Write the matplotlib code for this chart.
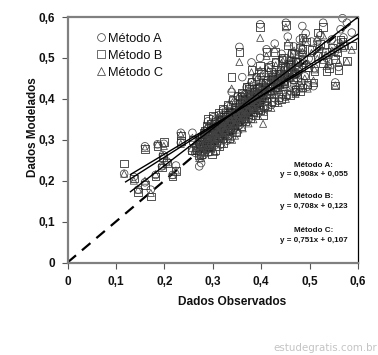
import matplotlib
matplotlib.use('Agg')
import matplotlib.pyplot as plt

plt.rcParams['font.family'] = ['Liberation Sans', 'DejaVu Sans']

# observed values, shared by the three methods
obs = [.117, .137, .146, .160, .160, .172, .182, .186, .199, .197,
       .195, .205, .217, .224, .234, .234, .258, .257, .276, .339,
       .361, .355, .398, .451, .485, .528, .568, .577, .587, .516,
       .508, .553, .404, .535, .560, .471, .484, .380, .398, .411,
       .375, .360,
       .420, .428, .435, .442, .448, .455, .462, .468, .474, .480,
       .486, .492, .498, .504, .510, .516, .522, .528, .534, .540,
       .546, .552, .558, .564, .570,
       .272, .275, .278, .281, .283, .285, .287, .289, .290, .292,
       .294, .295, .297, .298, .300, .301, .303, .304, .306, .307,
       .309, .310, .312, .313, .315, .316, .318, .319, .321, .322,
       .324, .325, .327, .328, .330, .331, .333, .335, .336, .338,
       .340, .341, .343, .345, .346, .348, .350, .351, .353, .355,
       .356, .358, .360, .362, .364, .366, .368, .370, .372, .374,
       .376, .378, .380, .382, .384, .386, .388, .390, .392, .394,
       .396, .398, .400, .403, .406, .409, .412, .415, .418, .421,
       .424, .427, .430, .433, .436, .439, .442, .445, .448, .451,
       .455, .459, .463, .467, .471, .475, .480, .485, .490, .496]

metodo_a = [.217, .209, .178, .284, .196, .178, .214, .289, .290, .263,
            .235, .247, .214, .237, .317, .293, .317, .272, .243, .417,
            .453, .527, .582, .586, .578, .586, .597, .586, .562, .540,
            .431, .440, .380, .500, .478, .423, .440, .489, .500, .521,
            .430, .406,
            .482, .535, .450, .510, .470, .552, .495, .528, .462, .545,
            .510, .560, .498, .540, .475, .525, .555, .505, .530, .490,
            .545, .515, .535, .570, .550,
            .235, .285, .300, .262, .310, .275, .325, .292, .345, .280,
            .305, .270, .330, .298, .312, .355, .285, .322, .300, .340,
            .292, .315, .360, .305, .332, .288, .348, .318, .372, .300,
            .338, .312, .355, .325, .298, .382, .345, .320, .362, .335,
            .308, .395, .352, .328, .372, .342, .318, .405, .362, .335,
            .385, .350, .412, .372, .345, .395, .362, .428, .380, .350,
            .402, .370, .440, .388, .358, .415, .378, .452, .398, .365,
            .425, .385, .462, .405, .375, .438, .395, .475, .418, .385,
            .445, .402, .488, .425, .395, .460, .412, .498, .435, .405,
            .475, .420, .510, .445, .415, .488, .430, .520, .455, .430]

metodo_b = [.242, .205, .172, .278, .190, .161, .210, .285, .294, .258,
            .232, .243, .210, .223, .310, .297, .300, .275, .265, .453,
            .406, .514, .576, .580, .550, .575, .540, .492, .530, .562,
            .440, .433, .360, .468, .470, .418, .428, .470, .480, .515,
            .425, .400,
            .465, .515, .440, .495, .460, .530, .482, .510, .452, .525,
            .495, .540, .478, .520, .468, .505, .535, .488, .515, .475,
            .525, .498, .515, .545, .530,
            .262, .298, .308, .280, .322, .290, .335, .272, .350, .300,
            .315, .288, .340, .265, .328, .358, .300, .332, .275, .345,
            .310, .325, .365, .285, .340, .305, .352, .328, .375, .292,
            .345, .322, .360, .335, .312, .385, .350, .305, .368, .342,
            .325, .398, .358, .335, .378, .318, .345, .408, .368, .345,
            .388, .332, .415, .378, .352, .398, .345, .430, .385, .362,
            .405, .352, .442, .392, .368, .418, .360, .455, .402, .375,
            .428, .372, .465, .410, .385, .440, .382, .478, .420, .395,
            .448, .392, .490, .428, .405, .462, .400, .500, .438, .412,
            .478, .410, .512, .448, .422, .490, .418, .522, .458, .435]

metodo_c = [.217, .200, .178, .280, .200, .170, .216, .289, .285, .263,
            .237, .245, .214, .225, .313, .290, .305, .280, .255, .425,
            .410, .490, .549, .575, .545, .555, .530, .492, .520, .548,
            .445, .433, .339, .480, .490, .425, .432, .465, .470, .505,
            .420, .395,
            .458, .522, .445, .488, .465, .538, .475, .518, .458, .515,
            .488, .548, .485, .512, .472, .498, .528, .495, .508, .482,
            .518, .505, .522, .538, .525,
            .255, .292, .270, .288, .315, .268, .330, .305, .338, .285,
            .322, .295, .278, .310, .335, .350, .292, .270, .312, .352,
            .302, .282, .355, .318, .298, .328, .345, .290, .368, .335,
            .308, .352, .330, .302, .375, .345, .318, .388, .355, .328,
            .300, .392, .362, .338, .310, .372, .348, .402, .325, .355,
            .380, .342, .408, .328, .365, .392, .352, .422, .372, .340,
            .398, .365, .435, .380, .350, .412, .375, .448, .392, .358,
            .420, .382, .458, .400, .368, .432, .392, .470, .412, .378,
            .442, .402, .482, .420, .390, .455, .410, .492, .430, .400,
            .470, .418, .505, .440, .412, .482, .425, .515, .450, .425]

# the dark core of the cloud, read apart from the rest
obs_core = [.264, .268, .271, .274, .277, .279, .282, .284, .286, .288,
            .291, .293, .296, .299, .302, .305, .308, .311, .314, .317,
            .320, .323, .326, .329, .332, .334, .337, .339, .342, .344,
            .347, .349, .352, .354, .357, .359, .361, .363, .365, .367,
            .369, .371, .373, .375, .377, .379, .381, .383, .385, .387,
            .389, .391, .393, .395, .397, .399, .401, .404, .407, .410,
            .413, .416, .419, .422, .425, .428, .431, .434, .437, .440,
            .443, .446, .449, .452, .456, .460, .464, .468, .472, .476,
            .300, .310, .320, .330, .340, .350, .360, .370, .380, .390,
            .305, .315, .325, .335, .345, .355, .365, .375, .385, .395]

core_a = [.268, .290, .272, .305, .281, .298, .286, .312, .294, .275,
          .318, .296, .288, .325, .308, .297, .332, .314, .302, .338,
          .322, .345, .328, .312, .350, .336, .325, .358, .342, .332,
          .368, .350, .340, .375, .358, .348, .385, .368, .356, .392,
          .374, .362, .398, .382, .370, .405, .390, .378, .412, .396,
          .385, .418, .402, .392, .428, .410, .398, .435, .418, .406,
          .444, .424, .416, .450, .432, .424, .458, .440, .432, .468,
          .448, .440, .476, .456, .450, .482, .464, .458, .492, .470,
          .318, .328, .338, .322, .358, .342, .378, .362, .398, .382,
          .322, .334, .330, .350, .352, .372, .362, .392, .382, .412]

core_b = [.282, .274, .296, .290, .306, .288, .318, .300, .284, .322,
          .305, .282, .330, .318, .298, .340, .322, .306, .348, .330,
          .315, .355, .340, .322, .360, .345, .330, .365, .350, .338,
          .372, .358, .345, .380, .365, .352, .390, .372, .362, .396,
          .380, .368, .404, .388, .375, .410, .394, .382, .416, .400,
          .390, .424, .408, .396, .430, .415, .404, .440, .422, .412,
          .446, .430, .420, .455, .438, .428, .462, .445, .436, .470,
          .452, .444, .478, .460, .454, .486, .466, .462, .490, .474,
          .312, .335, .328, .345, .348, .365, .368, .385, .378, .402,
          .326, .328, .342, .340, .362, .358, .382, .378, .402, .398]

core_c = [.276, .284, .266, .298, .288, .272, .308, .294, .278, .316,
          .300, .290, .322, .288, .314, .330, .305, .320, .340, .316,
          .334, .350, .320, .340, .355, .328, .346, .362, .335, .352,
          .370, .342, .360, .378, .350, .366, .388, .360, .376, .394,
          .366, .384, .400, .375, .392, .408, .384, .398, .414, .392,
          .406, .420, .398, .412, .426, .404, .420, .436, .412, .428,
          .442, .420, .436, .452, .428, .444, .460, .436, .452, .466,
          .444, .460, .474, .452, .468, .480, .458, .474, .488, .466,
          .308, .322, .342, .336, .362, .348, .372, .358, .392, .376,
          .316, .340, .324, .356, .340, .366, .356, .386, .376, .406]

# fit lines, ends
linha_a_x = [.130, .600]
linha_a_y = [.173, .600]
linha_b_x = [.130, .600]
linha_b_y = [.215, .548]
linha_c_x = [.120, .600]
linha_c_y = [.197, .558]
ref_x = [0, .6]
ref_y = [0, .6]

ticks = [0, .1, .2, .3, .4, .5, .6]
tick_labels = ['0', '0,1', '0,2', '0,3', '0,4', '0,5', '0,6']

fig = plt.figure(figsize=(3.78, 3.55), dpi=100)
ax = fig.add_axes([67.5 / 378, (355 - 262.5) / 355, 290.5 / 378, 245.5 / 355])

ax.plot(ref_x, ref_y, color='black', lw=1.6, ls=(0, (5, 3.5)), zorder=1)
ax.scatter(obs + obs_core, metodo_a + core_a, marker='o', s=30, facecolors='none', edgecolors='#444444', linewidths=.55, clip_on=False, zorder=2)
ax.scatter(obs + obs_core, metodo_b + core_b, marker='s', s=30, facecolors='none', edgecolors='#222222', linewidths=.55, clip_on=False, zorder=2)
ax.scatter(obs + obs_core, metodo_c + core_c, marker='^', s=26, facecolors='none', edgecolors='#444444', linewidths=.55, clip_on=False, zorder=2)
ax.plot(linha_a_x, linha_a_y, color='black', lw=1, zorder=3)
ax.plot(linha_b_x, linha_b_y, color='black', lw=1, zorder=3)
ax.plot(linha_c_x, linha_c_y, color='black', lw=1, zorder=3)

ax.set_xlim(0, .6)
ax.set_ylim(0, .6)
ax.set_xticks(ticks)
ax.set_yticks(ticks)
ax.set_xticklabels(tick_labels, fontsize=8.5, fontweight='bold', color='#111111')
ax.set_yticklabels(tick_labels, fontsize=8.5, fontweight='bold', color='#111111')
ax.tick_params(length=4, width=.8, color='#555555', pad=5)
ax.tick_params(axis='x', pad=6)

for lado in ['left', 'bottom', 'top']:
    ax.spines[lado].set_color('#808080')
    ax.spines[lado].set_linewidth(1.6)
ax.spines['right'].set_color('black')
ax.spines['right'].set_linewidth(.9)

# legend drawn by hand, like the original
for py, marca, nome in [(37, 'o', 'Método A'), (54, 's', 'Método B'), (71, '^', 'Método C')]:
    fig.text(107.5 / 378, 1 - (py + .5) / 355, nome, fontsize=9.2, color='#111111', va='center_baseline')
    ax.plot([101 / 378], [1 - py / 355], marker=marca, ms=5.6, mfc='none', mec='#444444', mew=.55,
            transform=fig.transFigure, clip_on=False)

# equations
for py, texto in [(165, 'Método A:'), (174.5, 'y = 0,908x + 0,055'),
                  (196.5, 'Método B:'), (206, 'y = 0,708x + 0,123'),
                  (231, 'Método C:'), (241, 'y = 0,751x + 0,107')]:
    fig.text(313.5 / 378, 1 - py / 355, texto, fontsize=5.8, fontweight='bold', color='#111111',
             ha='center', va='center')

fig.text(231.7 / 378, 1 - 302 / 355, 'Dados Observados', fontsize=8.6, fontweight='bold', color='#111111',
         ha='center', va='center')
fig.text(33 / 378, 1 - 127 / 355, 'Dados Modelados', fontsize=8.4, fontweight='bold', color='#111111',
         rotation=90, ha='center', va='center')
fig.text(377 / 378, 1 - 348 / 355, 'estudegratis.com.br', fontsize=7.4, color='#c4c4c4',
         family='DejaVu Sans', ha='right', va='center')

fig.savefig('out.png', dpi=100)
